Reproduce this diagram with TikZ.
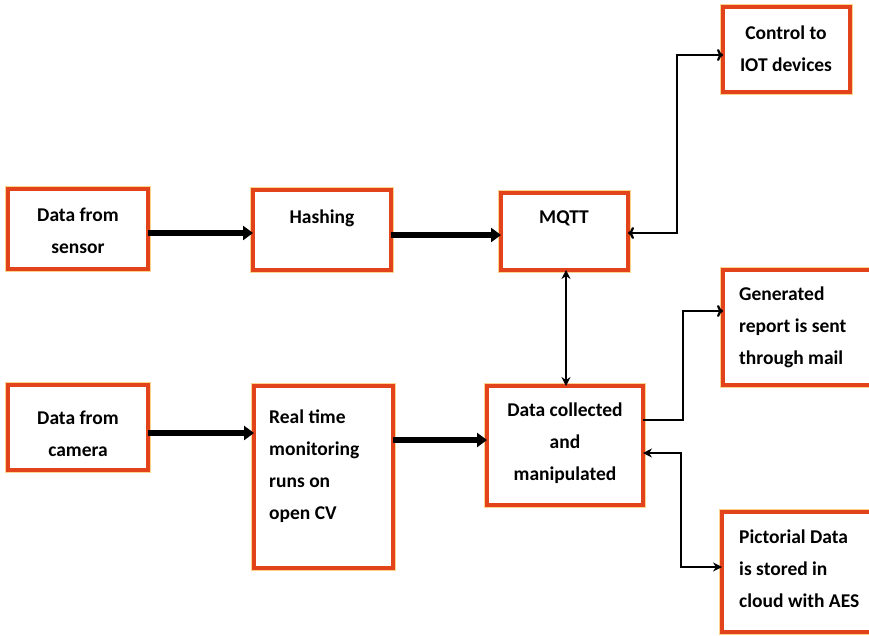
\documentclass[tikz,border=0pt]{standalone}
\usepackage{fontspec}
\setmainfont{Carlito}
\usetikzlibrary{arrows.meta}
\definecolor{boxred}{HTML}{E2431A}
\definecolor{glow}{HTML}{FBD38A}
\tikzset{
  blk/.style={draw=boxred, line width=3.2pt, fill=white, inner sep=0pt, outer sep=0pt,
    preaction={draw=glow, line width=5.5pt}},
  txt/.style={font=\bfseries\fontsize{19.5}{32}\selectfont, inner sep=0pt, text=black},
  fat/.style={line width=6.5pt, -{Triangle[length=10pt,width=14pt]}},
  thin/.style={line width=2.3pt},
}
\newcommand{\boxat}[5]{\node[blk, anchor=north west, minimum width=#4pt-#2pt, minimum height=#5pt-#3pt] (#1) at (#2,#3) {};}
\begin{document}
\begin{tikzpicture}[x=1pt,y=-1pt]
\useasboundingbox (0,0) rectangle (869,635);
\fill[white] (0,0) rectangle (869,635);
% boxes
\boxat{sensor}{8}{189}{148}{269}
\boxat{hash}{253}{190}{391}{270}
\boxat{mqtt}{501}{193}{628}{270}
\boxat{ctrl}{723}{7}{850}{92}
\boxat{camera}{8}{385}{148}{470}
\boxat{rt}{254}{386}{393}{568}
\boxat{dc}{487}{386}{643}{505}
\boxat{gen}{723}{270}{880}{385}
\boxat{pic}{722}{512}{880}{632}
% texts
\node[txt, align=center] (tsensor) at (78,231) {Data from\\sensor};
\node[txt] (thash) at (322,218) {Hashing};
\node[txt] (tmqtt) at (564,218) {MQTT};
\node[txt, align=center] (tctrl) at (786,49) {Control to\\IOT devices};
\node[txt, align=center] (tcamera) at (78,434) {Data from\\camera};
\node[txt, align=left, anchor=west] (trt) at (269,466) {Real time\\monitoring\\runs on\\open CV};
\node[txt, align=center] (tdc) at (565,443) {Data collected\\and\\manipulated};
\node[txt, align=left, anchor=west] (tgen) at (739,327) {Generated\\report is sent\\through mail};
\node[txt, align=left, anchor=west] (tpic) at (739,569) {Pictorial Data\\is stored in\\cloud with AES};
% coordinates
\coordinate (c1) at (677,233);
\coordinate (c1b) at (677,55);
\coordinate (c2) at (683,420);
\coordinate (c2b) at (683,311);
\coordinate (c3) at (681,453);
\coordinate (c3b) at (681,567);
% thick arrows
\draw[fat] (sensor.east |- 0,233) -- (hash.west |- 0,233);
\draw[fat] (hash.east |- 0,235) -- (mqtt.west |- 0,235);
\draw[fat] (camera.east |- 0,433) -- (rt.west |- 0,433);
\draw[fat] (rt.east |- 0,440) -- (dc.west |- 0,440);
% thin connectors
\draw[thin, {Stealth[length=9pt,width=9pt]}-{Stealth[length=9pt,width=9pt]}] (mqtt.south -| 566,0) -- (dc.north -| 566,0);
\draw[thin, {To[length=6pt,width=12pt]}-{To[length=6pt,width=12pt]}] (mqtt.east |- c1) -- (c1) -- (c1b) -- (ctrl.west |- c1b);
\draw[thin, -{To[length=6pt,width=12pt]}] (dc.east |- c2) -- (c2) -- (c2b) -- (gen.west |- c2b);
\draw[thin, {Stealth[length=9pt,width=9pt]}-{Stealth[length=9pt,width=9pt]}] (dc.east |- c3) -- (c3) -- (c3b) -- (pic.west |- c3b);
\end{tikzpicture}
\end{document}
